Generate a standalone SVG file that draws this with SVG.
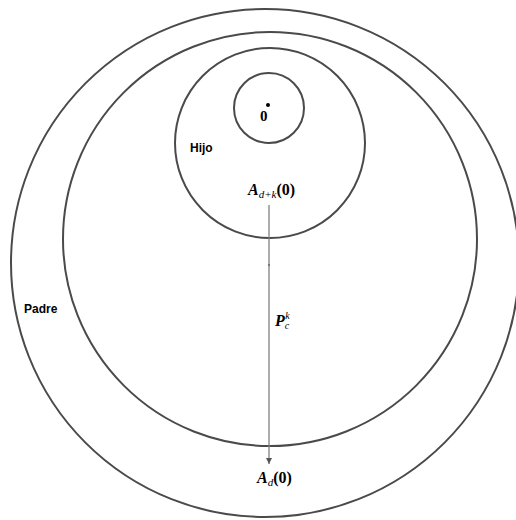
<svg xmlns="http://www.w3.org/2000/svg" width="516" height="520" viewBox="0 0 516 520">
<style>
.c{fill:none;stroke:#4a4a4a;stroke-width:2}
.lbl{font-family:"Liberation Sans",Arial,sans-serif;font-weight:bold;font-size:12px;fill:#000}
.m{font-family:"Liberation Serif","DejaVu Serif",serif;font-weight:bold;fill:#000}
.ln{stroke:#808080;stroke-width:1.3;fill:none}
</style>
<defs>
<marker id="ah" viewBox="0 0 10 10" refX="10" refY="5" markerWidth="6" markerHeight="9" orient="auto" markerUnits="userSpaceOnUse">
<path d="M0,0 L10,5 L0,10 z" fill="#555"/>
</marker>
</defs>
<g id="padre">
<circle class="c" cx="265" cy="263" r="254"/>
<text class="lbl" x="24" y="313">Padre</text>
</g>
<g id="medio">
<circle class="c" cx="270" cy="239" r="207"/>
</g>
<g id="hijo">
<circle class="c" cx="270" cy="143" r="95"/>
<text class="lbl" x="190" y="152">Hijo</text>
</g>
<g id="cero">
<circle class="c" cx="269" cy="108" r="35"/>
<circle cx="268" cy="105" r="2" fill="#000"/>
<text class="m" x="260" y="121" font-size="15" font-weight="normal">0</text>
</g>
<g id="connectors">
<line class="ln" x1="269" y1="205" x2="269" y2="464" marker-end="url(#ah)"/>
<circle cx="269" cy="265" r="0.8" fill="#333"/>
</g>
<g id="labels">
<text class="m" x="248" y="195" font-size="16"><tspan font-style="italic">A</tspan><tspan font-style="italic" font-weight="normal" font-size="11" dy="3">d+k</tspan><tspan dy="-3">(0)</tspan></text>
<text class="m" x="275" y="326" font-size="16"><tspan font-style="italic">P</tspan><tspan font-style="italic" font-weight="normal" font-size="10" dx="0" dy="3">c</tspan><tspan font-style="italic" font-weight="normal" font-size="10" dx="-4" dy="-10">k</tspan></text>
<text class="m" x="257" y="483" font-size="16"><tspan font-style="italic">A</tspan><tspan font-style="italic" font-weight="normal" font-size="11" dy="3">d</tspan><tspan dy="-3">(0)</tspan></text>
</g>
</svg>
